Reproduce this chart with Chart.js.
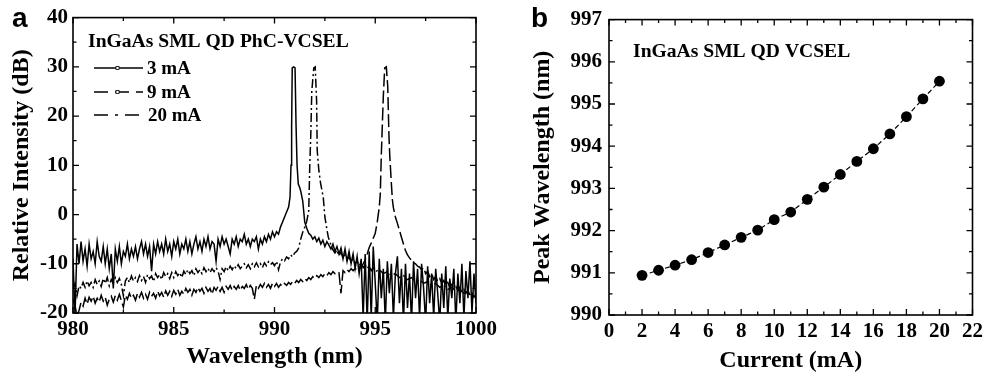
<!DOCTYPE html>
<html>
<head>
<meta charset="utf-8">
<script src="https://cdn.jsdelivr.net/npm/chart.js@4.4.1/dist/chart.umd.min.js"></script>
<style>
  html, body { margin: 0; padding: 0; background: #fff; }
  #wrap { position: relative; width: 987px; height: 378px; overflow: hidden; }
  #chartA { position: absolute; left: 0; top: 0; }
  #chartB { position: absolute; left: 490px; top: 0; }
  .tag { position: absolute; font: bold 28px "Liberation Sans", Arial, sans-serif; line-height: 1; }
</style>
</head>
<body>
<div id="wrap">
  <canvas id="chartA" width="520" height="378"></canvas>
  <canvas id="chartB" width="497" height="378"></canvas>
  <div class="tag" style="left:12px;top:4px">a</div>
  <div class="tag" style="left:531px;top:4px">b</div>
</div>
<script>
// panel a: spectra (wavelength nm / relative intensity dB)
const wl3 = [
  980.0, 980.1, 980.2, 980.3, 980.4, 980.5, 980.6, 980.7, 980.8, 980.9,
  981.0, 981.1, 981.2, 981.3, 981.4, 981.5, 981.6, 981.7, 981.8, 981.9,
  982.0, 982.1, 982.2, 982.3, 982.4, 982.5, 982.6, 982.7, 982.8, 982.9,
  983.0, 983.1, 983.2, 983.3, 983.4, 983.5, 983.6, 983.7, 983.8, 983.9,
  984.0, 984.1, 984.2, 984.3, 984.4, 984.5, 984.6, 984.7, 984.8, 984.9,
  985.0, 985.1, 985.2, 985.3, 985.4, 985.5, 985.6, 985.7, 985.8, 985.9,
  986.0, 986.1, 986.2, 986.3, 986.4, 986.5, 986.6, 986.7, 986.8, 986.9,
  987.0, 987.1, 987.2, 987.3, 987.4, 987.5, 987.6, 987.7, 987.8, 987.9,
  988.0, 988.1, 988.2, 988.3, 988.4, 988.5, 988.6, 988.7, 988.8, 988.9,
  989.0, 989.1, 989.2, 989.3, 989.4, 989.5, 989.6, 989.7, 989.8, 989.9,
  990.0, 990.1, 990.2, 990.3, 990.4,
  990.5, 990.6, 990.7, 990.77, 990.82, 990.85, 990.88, 990.95, 991.02, 991.07,
  991.12, 991.18, 991.25, 991.3, 991.4, 991.5, 991.6, 991.7,
  991.8, 991.9,
  992.0, 992.1, 992.2, 992.3, 992.4, 992.5, 992.6, 992.7, 992.8, 992.9,
  993.0, 993.1, 993.2, 993.3, 993.4, 993.5, 993.6, 993.7, 993.8, 993.9,
  994.0, 994.1, 994.2, 994.3, 994.4, 994.5, 994.6, 994.7, 994.8, 994.9,
  995.0, 995.1, 995.2, 995.3, 995.4, 995.5, 995.6, 995.7, 995.8, 995.9,
  996.0, 996.1, 996.2, 996.3, 996.4, 996.5, 996.6, 996.7, 996.8, 996.9,
  997.0, 997.1, 997.2, 997.3, 997.4, 997.5, 997.6, 997.7, 997.8, 997.9,
  998.0, 998.1, 998.2, 998.3, 998.4, 998.5, 998.6, 998.7, 998.8, 998.9,
  999.0, 999.1, 999.2, 999.3, 999.4, 999.5, 999.6, 999.7, 999.8, 999.9,
  1000.0
];
const db3 = [
  -9, -20.5, -6, -10, -5.5, -9.5, -7, -10.5, -6, -9,
  -7.5, -10, -5.5, -8.5, -9.5, -6.5, -10, -7, -11, -8,
  -15, -7, -9.5, -6.5, -10, -7.5, -8.5, -6, -9, -7,
  -8.5, -6.5, -9, -7, -5.5, -8, -6, -8.5, -6.5, -11.5,
  -6, -8, -5.5, -7.5, -6, -8, -5, -7.5, -6, -8.5,
  -5.5, -7, -5, -8, -6, -7, -5, -7.5, -5.5, -8,
  -6, -4.5, -7, -5.5, -7.5, -5, -6.5, -4.5, -7, -5.5,
  -6, -9.5, -5, -6.5, -4.5, -6, -5, -6.5, -8, -5,
  -6, -4.5, -6.5, -5, -5.5, -4, -6, -5, -6.5, -5,
  -5.5, -4.5, -7, -5, -6, -4.5, -5.5, -4, -5, -3.5,
  -4.5, -3.5, -4, -2.5, -1.5,
  -0.5, 0.5, 1.5, 3.5, 10, 18, 29.8, 30, 29.8, 18,
  10, 6.2, 5.5, 4.8, 2.8, -1.5, -2.8, -3.8,
  -4.2, -5,
  -4.5, -5.5, -4.8, -6, -5.2, -6.5, -5.5, -6.2, -7, -6,
  -7.5, -6.5, -8, -6.8, -9, -7, -9.5, -7.5, -10, -8,
  -11, -8.5, -12, -9, -21, -8, -22, -7.5, -21, -6.5,
  -14, -22, -9, -17, -11, -22, -9.5, -16, -10, -21,
  -12, -8.5, -18, -11, -22, -10, -19, -12, -22, -9.5,
  -17, -11, -21, -10, -15, -22, -10.5, -18, -12, -21,
  -11, -16, -22, -12, -19, -10.5, -21, -13, -17, -11,
  -22, -12, -18, -10, -21, -11.5, -17, -9.5, -20, -12,
  -18
];
const wl9 = [
  980.0, 980.1, 980.2, 980.3, 980.4, 980.5, 980.6, 980.7, 980.8, 980.9,
  981.0, 981.1, 981.2, 981.3, 981.4, 981.5, 981.6, 981.7, 981.8, 981.9,
  982.0, 982.1, 982.2, 982.3, 982.4, 982.5, 982.6, 982.7, 982.8, 982.9,
  983.0, 983.1, 983.2, 983.3, 983.4, 983.5, 983.6, 983.7, 983.8, 983.9,
  984.0, 984.1, 984.2, 984.3, 984.4, 984.5, 984.6, 984.7, 984.8, 984.9,
  985.0, 985.1, 985.2, 985.3, 985.4, 985.5, 985.6, 985.7, 985.8, 985.9,
  986.0, 986.1, 986.2, 986.3, 986.4, 986.5, 986.6, 986.7, 986.8, 986.9,
  987.0, 987.1, 987.2, 987.3, 987.4, 987.5, 987.6, 987.7, 987.8, 987.9,
  988.0, 988.1, 988.2, 988.3, 988.4, 988.5, 988.6, 988.7, 988.8, 988.9,
  989.0, 989.1, 989.2, 989.3, 989.4, 989.5, 989.6, 989.7, 989.8, 989.9,
  990.0, 990.1, 990.2, 990.3, 990.4, 990.5, 990.6, 990.7, 990.8, 990.9,
  991.0, 991.1, 991.2, 991.3, 991.4, 991.5, 991.6, 991.7,
  991.75, 991.8, 991.85, 991.95, 992.02, 992.09, 992.12, 992.2, 992.29, 992.42,
  992.5, 992.6, 992.67, 992.8, 992.9,
  993.0, 993.1, 993.2, 993.3, 993.4, 993.5, 993.6, 993.7, 993.8, 993.9,
  994.0, 994.1, 994.2, 994.3, 994.4, 994.5, 994.6, 994.7, 994.8, 994.9, 995.0,
  995.2, 995.4, 995.6, 995.8, 996.0, 996.2, 996.4, 996.6, 996.8, 997.0,
  997.2, 997.4, 997.6, 997.8, 998.0, 998.2, 998.4, 998.6, 998.8, 999.0,
  999.2, 999.4, 999.6, 999.8, 1000.0
];
const db9 = [
  -15, -14, -16.5, -14.5, -15, -13.8, -14.8, -13.5, -14.5, -13.8,
  -14.8, -13.2, -14.2, -13.5, -14.6, -13, -14, -12.8, -14.5, -13.2,
  -14, -12.8, -13.8, -13, -14.2, -16.5, -13.5, -12.8, -13.8, -12.5,
  -13.5, -12.8, -13.6, -12.4, -13.4, -12.6, -13.8, -12.2, -13, -12.5,
  -13.6, -12, -12.8, -12.2, -13.2, -11.8, -12.6, -12, -13, -11.8,
  -12.8, -11.6, -12.4, -11.8, -12.8, -11.5, -12.2, -11.2, -12, -11.4,
  -12.4, -11, -11.8, -11.2, -12, -10.8, -11.6, -10.9, -11.8, -11,
  -11.6, -10.8, -11.5, -13.2, -11, -11.6, -10.6, -11.4, -10.5, -11.2,
  -10.4, -11, -10.2, -11, -10.5, -10, -10.8, -10.2, -11, -10,
  -10.6, -9.8, -10.6, -10, -10.8, -9.8, -10.4, -9.6, -10.2, -9.8,
  -10.4, -9.5, -11.2, -9.6, -9, -9.4, -8.6, -9, -8.2, -8.6,
  -7.8, -7.5, -6.8, -5, -3.6, -2.6, -1.4, 0.8,
  10, 16, 25, 29.8, 30, 23, 13, 9, 6.3, 3.5,
  -0.5, -3, -4.6, -6.2, -7.2,
  -7.8, -7.2, -8.4, -7.6, -8.8, -8.2, -9.2, -8.6, -9.6, -9,
  -10, -9.4, -10.4, -9.8, -10.8, -10.2, -11, -10.4, -11.4, -10.8, -11.6,
  -11.2, -12, -11.6, -12.4, -12, -12.8, -12.4, -13.2, -12.8, -13.6,
  -13.2, -14, -13.6, -14.4, -14, -14.8, -14.4, -15.2, -14.8, -15.6,
  -15.2, -16, -15.6, -16.4, -16
];
const wl20 = [
  980.0, 980.1, 980.2, 980.3, 980.4, 980.5, 980.6, 980.7, 980.8, 980.9,
  981.0, 981.1, 981.2, 981.3, 981.4, 981.5, 981.6, 981.7, 981.8, 981.9,
  982.0, 982.1, 982.2, 982.3, 982.4, 982.5, 982.6, 982.7, 982.8, 982.9,
  983.0, 983.1, 983.2, 983.3, 983.4, 983.5, 983.6, 983.7, 983.8, 983.9,
  984.0, 984.1, 984.2, 984.3, 984.4, 984.5, 984.6, 984.7, 984.8, 984.9,
  985.0, 985.1, 985.2, 985.3, 985.4, 985.5, 985.6, 985.7, 985.8, 985.9,
  986.0, 986.1, 986.2, 986.3, 986.4, 986.5, 986.6, 986.7, 986.8, 986.9,
  987.0, 987.1, 987.2, 987.3, 987.4, 987.5, 987.6, 987.7, 987.8, 987.9,
  988.0, 988.1, 988.2, 988.3, 988.4, 988.5, 988.6, 988.7, 988.8, 988.9,
  989.0, 989.1, 989.2, 989.3, 989.4, 989.5, 989.6, 989.7, 989.8, 989.9,
  990.0, 990.1, 990.2, 990.3, 990.4, 990.5, 990.6, 990.7, 990.8, 990.9,
  991.0, 991.1, 991.2, 991.3, 991.4, 991.5, 991.6, 991.7, 991.8, 991.9,
  992.0, 992.1, 992.2, 992.3, 992.4, 992.5, 992.6, 992.7, 992.8, 992.9,
  993.0, 993.1, 993.2, 993.3, 993.4, 993.5, 993.6, 993.7, 993.8, 993.9,
  994.0, 994.1, 994.2, 994.3, 994.4, 994.5, 994.6,
  994.7, 994.8, 994.9, 995.0, 995.1, 995.2, 995.25, 995.3, 995.35, 995.4,
  995.47, 995.55, 995.62, 995.68, 995.72, 995.8, 995.85, 995.9,
  996.0, 996.1, 996.2, 996.3, 996.4, 996.5, 996.6, 996.7, 996.8, 996.9,
  997.0, 997.1, 997.2, 997.3, 997.4, 997.5, 997.6, 997.7, 997.8, 997.9,
  998.0, 998.1, 998.2, 998.3, 998.4, 998.5, 998.6, 998.7, 998.8, 998.9,
  999.0, 999.1, 999.2, 999.3, 999.4, 999.5, 999.6, 999.7, 999.8, 999.9,
  1000.0
];
const db20 = [
  -17.2, -18.5, -20.5, -19.5, -17.8, -18.6, -17, -18.2, -16.8, -17.6,
  -16.6, -18, -17, -17.8, -16.4, -17.6, -16.8, -18.4, -17.2, -16.6,
  -17.8, -16.5, -17.4, -16.2, -17.5, -18.8, -16.4, -17.2, -16, -17,
  -16.4, -17.4, -16, -16.8, -15.8, -17, -16.2, -17.2, -15.8, -16.6,
  -16, -17, -15.6, -16.5, -15.8, -16.8, -15.5, -16.4, -15.6, -16.6,
  -15.4, -16.2, -15.2, -16.4, -15.6, -16.2, -15, -15.8, -15.2, -16.4,
  -15.2, -15.8, -14.8, -15.6, -15, -16, -14.8, -15.6, -15, -16.2,
  -14.8, -15.4, -14.6, -15.6, -14.8, -15.8, -14.6, -15.2, -14.4, -15.4,
  -14.6, -15.2, -14.4, -15.4, -14.6, -15, -14.2, -15.2, -14.4, -15,
  -17.2, -14.4, -15, -14.2, -14.8, -14, -14.8, -14.2, -15, -14,
  -14.6, -14, -14.8, -14.2, -14.6, -14, -14.4, -13.8, -14.2, -13.6,
  -14, -13.4, -13.8, -13.2, -13.6, -13, -13.4, -12.8, -13.2, -12.6,
  -13, -12.4, -12.8, -12.2, -12.6, -12, -12.4, -11.8, -12.2, -11.6,
  -12, -11.6, -11.8, -16, -11.4, -11.8, -11.2, -11.6, -11, -11.4,
  -11, -11.2, -10.6, -10.8, -10, -9.2, -8,
  -6.7, -5.8, -4.8, -3.8, -1.5, 1.5, 4.2, 12, 18, 24,
  29.8, 30, 26, 16, 12, 6.3, 3, 1.4,
  -0.5, -1.8, -3.2, -4.6, -6, -7.3, -8.2, -8.8, -9.3, -9.8,
  -10, -10.5, -10.7, -11.2, -10.8, -12, -11.5, -12.6, -12, -13.2,
  -12.6, -13.6, -13, -14, -13.4, -14.4, -13.8, -14.8, -14.2, -15,
  -14.6, -15.4, -14.8, -15.8, -15.2, -16, -15.4, -16.4, -15.8, -16.8,
  -16.2
];
const seriesA = ["3 mA", "9 mA", "20 mA"];
const noteA = "InGaAs SML QD PhC-VCSEL";

// panel b: peak wavelength vs current
const currents = [2, 3, 4, 5, 6, 7, 8, 9, 10, 11, 12, 13, 14, 15, 16, 17, 18, 19, 20];
const peakWl = [990.94, 991.06, 991.18, 991.31, 991.48, 991.66, 991.84, 992.01, 992.26, 992.44,
                992.74, 993.03, 993.33, 993.64, 993.94, 994.29, 994.70, 995.12, 995.54];
const noteB = "InGaAs SML QD VCSEL";

const SERIF = "'Liberation Serif', 'Times New Roman', serif";
const tickFont = { family: SERIF, size: 21, weight: "bold", lineHeight: 1.2 };
const titleFont = { family: SERIF, size: 24, weight: "bold", lineHeight: 1.2 };

const pairs = (xs, ys) => xs.map((x, i) => ({ x, y: ys[i] }));

// box frame with inward major/minor ticks on all four sides
const frameTicks = {
  id: "frameTicks",
  afterDatasetsDraw(chart, args, opts) {
    const { ctx, chartArea: a, scales } = chart;
    ctx.save();
    ctx.strokeStyle = "#000";
    ctx.lineWidth = 1.6;
    ctx.strokeRect(a.left, a.top, a.right - a.left, a.bottom - a.top);
    ctx.lineWidth = 1.3;
    const isMajor = (v, min, step) => {
      const r = (v - min) / step;
      return Math.abs(r - Math.round(r)) < 1e-6;
    };
    const xs = scales.x, ys = scales.y;
    for (let v = xs.min; v <= xs.max + 1e-9; v += opts.xMinor) {
      const len = isMajor(v, xs.min, opts.xMajor) ? 6 : 3.5;
      const px = xs.getPixelForValue(v);
      ctx.beginPath();
      ctx.moveTo(px, a.bottom); ctx.lineTo(px, a.bottom - len);
      ctx.moveTo(px, a.top); ctx.lineTo(px, a.top + len);
      ctx.stroke();
    }
    for (let v = ys.min; v <= ys.max + 1e-9; v += opts.yMinor) {
      const len = isMajor(v, ys.min, opts.yMajor) ? 6 : 3.5;
      const py = ys.getPixelForValue(v);
      ctx.beginPath();
      ctx.moveTo(a.left, py); ctx.lineTo(a.left + len, py);
      ctx.moveTo(a.right, py); ctx.lineTo(a.right - len, py);
      ctx.stroke();
    }
    ctx.restore();
  }
};

// inline note and legend
const notes = {
  id: "notes",
  afterDraw(chart, args, opts) {
    const { ctx } = chart;
    ctx.save();
    ctx.fillStyle = "#000";
    ctx.strokeStyle = "#000";
    ctx.textBaseline = "middle";
    ctx.font = "bold 19.6px " + SERIF;
    ctx.fillText(opts.text, opts.tx, opts.ty);
    ctx.font = "bold 19px " + SERIF;
    (opts.legend || []).forEach((item, i) => {
      const ds = chart.data.datasets[i];
      ctx.setLineDash(item.dash);
      ctx.lineWidth = 1.5;
      ctx.beginPath();
      ctx.moveTo(94, item.y);
      ctx.lineTo(143, item.y);
      ctx.stroke();
      ctx.setLineDash([]);
      if (item.box) {
        ctx.fillStyle = "#fff";
        ctx.fillRect(116, item.y - 1.5, 3, 3);
        ctx.lineWidth = 0.8;
        ctx.strokeRect(116, item.y - 1.5, 3, 3);
        ctx.fillStyle = "#000";
      }
      ctx.fillText(ds.label, item.lx, item.y + 1);
    });
    ctx.restore();
  }
};

const baseScale = (min, max, step, title, titlePad, tickPad, fit) => ({
  type: "linear",
  min, max,
  afterFit: fit,
  grid: { display: false, drawTicks: false },
  border: { display: false },
  ticks: {
    stepSize: step, autoSkip: false, maxRotation: 0, padding: tickPad, color: "#000", font: tickFont,
    callback: (v) => String(v)
  },
  title: { display: true, text: title, color: "#000", font: titleFont, padding: titlePad }
});

new Chart(document.getElementById("chartA"), {
  type: "line",
  data: {
    datasets: [
      { label: seriesA[0], data: pairs(wl3, db3), borderColor: "#000", borderWidth: 1.5, borderDash: [] },
      { label: seriesA[1], data: pairs(wl9, db9), borderColor: "#000", borderWidth: 1.5, borderDash: [9, 3, 2, 3] },
      { label: seriesA[2], data: pairs(wl20, db20), borderColor: "#000", borderWidth: 1.5, borderDash: [13, 4] }
    ]
  },
  options: {
    responsive: false,
    animation: false,
    devicePixelRatio: 1,
    layout: { padding: { left: 0, right: 44, top: 16, bottom: 0 } },
    elements: { point: { radius: 0 }, line: { tension: 0 } },
    plugins: {
      legend: { display: false },
      tooltip: { enabled: false },
      frameTicks: { xMajor: 5, xMinor: 2.5, yMajor: 10, yMinor: 5 },
      notes: {
        text: noteA, tx: 88, ty: 42,
        legend: [
          { y: 68, dash: [], box: true, lx: 147 },
          { y: 92, dash: [14, 7], box: true, lx: 147 },
          { y: 115, dash: [14, 7, 3, 7], box: false, lx: 148 }
        ]
      }
    },
    scales: {
      x: baseScale(980, 1000, 5, "Wavelength (nm)", { top: 0, bottom: 7 }, 4, s => { s.height = 65; }),
      y: baseScale(-20, 40, 10, "Relative Intensity (dB)", { top: 7, bottom: 0 }, 5, s => { s.width = 73; })
    }
  },
  plugins: [frameTicks, notes]
});

new Chart(document.getElementById("chartB"), {
  type: "line",
  data: {
    datasets: [{
      label: "Peak wavelength",
      data: pairs(currents, peakWl),
      borderColor: "#000",
      borderWidth: 1.2,
      borderDash: [5, 3],
      pointRadius: 5.4,
      pointBackgroundColor: "#000",
      pointBorderColor: "#000",
      pointBorderWidth: 0
    }]
  },
  options: {
    responsive: false,
    animation: false,
    devicePixelRatio: 1,
    layout: { padding: { left: 0, right: 12, top: 17, bottom: 0 } },
    elements: { line: { tension: 0 } },
    plugins: {
      legend: { display: false },
      tooltip: { enabled: false },
      frameTicks: { xMajor: 2, xMinor: 1, yMajor: 1, yMinor: 0.5 },
      notes: { text: noteB, tx: 143, ty: 52 }
    },
    scales: {
      x: baseScale(0, 22, 2, "Current (mA)", { top: 0, bottom: 3 }, 4, s => { s.height = 63; }),
      y: baseScale(990, 997, 1, "Peak Wavelength (nm)", { top: 38, bottom: 0 }, 7, s => { s.width = 119; })
    }
  },
  plugins: [frameTicks, notes]
});
</script>
</body>
</html>
